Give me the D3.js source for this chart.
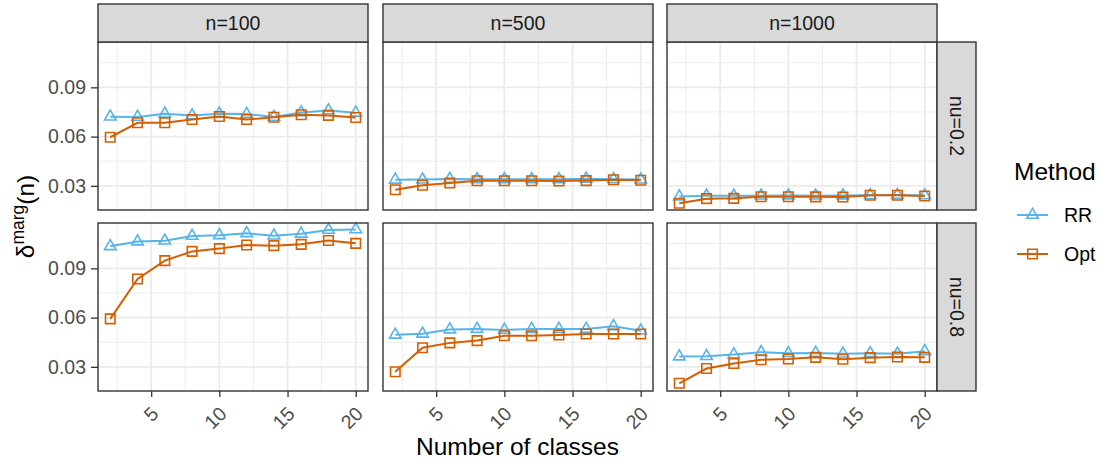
<!DOCTYPE html>
<html>
<head>
<meta charset="utf-8">
<script src="https://cdn.jsdelivr.net/npm/d3@7"></script>
<style>
  body { margin: 0; background: white; }
  svg { display: block; font-family: "Liberation Sans", Arial, sans-serif; }
</style>
</head>
<body>
<script>
// x values and facet labels
var classes = [2, 4, 6, 8, 10, 12, 14, 16, 18, 20];
var sizeLabels = ["n=100", "n=500", "n=1000"];
var nuLabels = ["nu=0.2", "nu=0.8"];
var methods = ["RR", "Opt"];
var yTicks = [0.03, 0.06, 0.09];
var xTicks = [5, 10, 15, 20];

// nu = 0.2
var rr_02_100  = [0.0721, 0.0720, 0.0739, 0.0729, 0.0739, 0.0737, 0.0720, 0.0747, 0.0759, 0.0745];
var opt_02_100 = [0.0596, 0.0684, 0.0684, 0.0704, 0.0722, 0.0704, 0.0718, 0.0733, 0.0729, 0.0716];
var rr_02_500  = [0.0337, 0.0338, 0.0342, 0.0340, 0.0340, 0.0340, 0.0340, 0.0343, 0.0341, 0.0338];
var opt_02_500 = [0.0276, 0.0304, 0.0317, 0.0331, 0.0331, 0.0331, 0.0330, 0.0332, 0.0337, 0.0334];
var rr_02_1000  = [0.0235, 0.0240, 0.0240, 0.0240, 0.0241, 0.0240, 0.0241, 0.0243, 0.0244, 0.0242];
var opt_02_1000 = [0.0194, 0.0222, 0.0224, 0.0234, 0.0234, 0.0233, 0.0232, 0.0243, 0.0243, 0.0238];
// nu = 0.8
var rr_08_100  = [0.1034, 0.1063, 0.1068, 0.1097, 0.1101, 0.1113, 0.1099, 0.1110, 0.1134, 0.1137];
var opt_08_100 = [0.0592, 0.0835, 0.0947, 0.1003, 0.1020, 0.1042, 0.1038, 0.1046, 0.1069, 0.1052];
var rr_08_500  = [0.0495, 0.0501, 0.0527, 0.0530, 0.0525, 0.0530, 0.0530, 0.0530, 0.0547, 0.0520];
var opt_08_500 = [0.0270, 0.0416, 0.0446, 0.0460, 0.0489, 0.0489, 0.0494, 0.0500, 0.0500, 0.0500];
var rr_08_1000  = [0.0363, 0.0365, 0.0375, 0.0389, 0.0383, 0.0385, 0.0380, 0.0383, 0.0380, 0.0395];
var opt_08_1000 = [0.0200, 0.0290, 0.0320, 0.0343, 0.0348, 0.0358, 0.0346, 0.0356, 0.0360, 0.0358];

var panels = [
  [ {RR: rr_02_100, Opt: opt_02_100}, {RR: rr_02_500, Opt: opt_02_500}, {RR: rr_02_1000, Opt: opt_02_1000} ],
  [ {RR: rr_08_100, Opt: opt_08_100}, {RR: rr_08_500, Opt: opt_08_500}, {RR: rr_08_1000, Opt: opt_08_1000} ]
];

var colors = { RR: "#56B4E9", Opt: "#D55E00" };

var width = 1102, height = 462;
var panelLeft = [98, 383, 667];
var panelW = 270;
var panelTop = [42, 223];
var panelH = 168;
var stripTop = 4, stripH = 38, stripW = 39;
var tickFont = "19.5px", titleFont = "24.5px";

var svg = d3.select("body").append("svg")
    .attr("width", width)
    .attr("height", height);

var x = d3.scaleLinear().domain([1.1, 20.9]).range([0, panelW]);
var y = d3.scaleLinear().domain([0.0153, 0.1176]).range([panelH, 0]);

var line = d3.line()
    .x(function(d, i) { return x(classes[i]); })
    .y(function(d) { return y(d); });

function triangle(s) {
  var h = s * 0.866;
  return "M0," + (-2 * h / 3) + "L" + (s / 2) + "," + (h / 3) + "L" + (-s / 2) + "," + (h / 3) + "Z";
}
function square(s) {
  return "M" + (-s / 2) + "," + (-s / 2) + "h" + s + "v" + s + "h" + (-s) + "Z";
}
function drawShape(g, m, cx, cy) {
  g.append("path")
    .attr("d", m == "RR" ? triangle(11.5) : square(9.5))
    .attr("transform", "translate(" + cx + "," + cy + ")")
    .attr("fill", "none")
    .attr("stroke", colors[m])
    .attr("stroke-width", 1.6);
}

var minorY = [0.045, 0.075, 0.105];
var minorX = [2.5, 7.5, 12.5, 17.5];

for (var r = 0; r < 2; r++) {
  for (var c = 0; c < 3; c++) {
    var g = svg.append("g").attr("transform", "translate(" + panelLeft[c] + "," + panelTop[r] + ")");

    g.append("rect").attr("width", panelW).attr("height", panelH).attr("fill", "white");

    // grid
    g.selectAll(".minx").data(minorX).enter().append("line")
      .attr("x1", function(d) { return x(d); }).attr("x2", function(d) { return x(d); })
      .attr("y1", 0).attr("y2", panelH)
      .attr("stroke", "#EBEBEB").attr("stroke-width", 0.9);
    g.selectAll(".miny").data(minorY).enter().append("line")
      .attr("y1", function(d) { return y(d); }).attr("y2", function(d) { return y(d); })
      .attr("x1", 0).attr("x2", panelW)
      .attr("stroke", "#EBEBEB").attr("stroke-width", 0.9);
    g.selectAll(".majx").data(xTicks).enter().append("line")
      .attr("x1", function(d) { return x(d); }).attr("x2", function(d) { return x(d); })
      .attr("y1", 0).attr("y2", panelH)
      .attr("stroke", "#EBEBEB").attr("stroke-width", 1.8);
    g.selectAll(".majy").data(yTicks).enter().append("line")
      .attr("y1", function(d) { return y(d); }).attr("y2", function(d) { return y(d); })
      .attr("x1", 0).attr("x2", panelW)
      .attr("stroke", "#EBEBEB").attr("stroke-width", 1.8);

    // lines and points
    methods.forEach(function(m) {
      var vals = panels[r][c][m];
      g.append("path").datum(vals)
        .attr("d", line)
        .attr("fill", "none")
        .attr("stroke", colors[m])
        .attr("stroke-width", 2);
      vals.forEach(function(v, i) { drawShape(g, m, x(classes[i]), y(v)); });
    });

    g.append("rect").attr("width", panelW).attr("height", panelH)
      .attr("fill", "none").attr("stroke", "#333333").attr("stroke-width", 1.4);

    // y axis on first column
    if (c == 0) {
      var ya = d3.axisLeft(y).tickValues(yTicks).tickSize(7).tickPadding(5).tickFormat(d3.format(".2f"));
      var yg = g.append("g").call(ya);
      yg.select(".domain").remove();
      yg.selectAll("line").attr("stroke", "#333333").attr("stroke-width", 1.3);
      yg.selectAll("text").attr("fill", "#4D4D4D").style("font-size", tickFont)
        .style("font-family", "Liberation Sans, Arial, sans-serif");
    }
    // x axis on bottom row
    if (r == 1) {
      var xa = d3.axisBottom(x).tickValues(xTicks).tickSize(6).tickFormat(d3.format("d"));
      var xg = g.append("g").attr("transform", "translate(0," + panelH + ")").call(xa);
      xg.select(".domain").remove();
      xg.selectAll("line").attr("stroke", "#333333").attr("stroke-width", 1.3);
      xg.selectAll("text")
        .attr("y", 0).attr("dy", 0)
        .attr("text-anchor", "end")
        .attr("transform", "translate(8,24) rotate(-45)")
        .attr("fill", "#4D4D4D").style("font-size", tickFont)
        .style("font-family", "Liberation Sans, Arial, sans-serif");
    }
  }
}

// top strips
sizeLabels.forEach(function(s, c) {
  svg.append("rect")
    .attr("x", panelLeft[c]).attr("y", stripTop)
    .attr("width", panelW).attr("height", stripH)
    .attr("fill", "#D9D9D9").attr("stroke", "#333333").attr("stroke-width", 1.4);
  svg.append("text")
    .attr("x", panelLeft[c] + panelW / 2).attr("y", stripTop + stripH / 2 + 7)
    .attr("text-anchor", "middle")
    .style("font-size", tickFont).attr("fill", "#1A1A1A")
    .text(s);
});

// right strips
nuLabels.forEach(function(s, r) {
  var sx = panelLeft[2] + panelW;
  svg.append("rect")
    .attr("x", sx).attr("y", panelTop[r])
    .attr("width", stripW).attr("height", panelH)
    .attr("fill", "#D9D9D9").attr("stroke", "#333333").attr("stroke-width", 1.4);
  var cx = sx + stripW / 2 - 7, cy = panelTop[r] + panelH / 2;
  svg.append("text")
    .attr("transform", "translate(" + cx + "," + cy + ") rotate(90)")
    .attr("text-anchor", "middle")
    .style("font-size", tickFont).attr("fill", "#1A1A1A")
    .text(s);
});

// axis titles
svg.append("text")
  .attr("x", (panelLeft[0] + panelLeft[2] + panelW) / 2).attr("y", 455)
  .attr("text-anchor", "middle")
  .style("font-size", titleFont)
  .text("Number of classes");

var yt = svg.append("text")
  .attr("transform", "translate(34," + (panelTop[0] + panelTop[1] + panelH) / 2 + ") rotate(-90)")
  .attr("text-anchor", "middle")
  .style("font-size", titleFont);
yt.append("tspan").text("δ");
yt.append("tspan").attr("dy", -10).style("font-size", "17.5px").text("marg");
yt.append("tspan").attr("dy", 10).text("(n)");

// legend
svg.append("text").attr("x", 1014).attr("y", 180).style("font-size", titleFont).text("Method");
methods.forEach(function(m, i) {
  var ly = 215 + i * 39;
  var lg = svg.append("g");
  lg.append("line").attr("x1", 1017).attr("x2", 1048).attr("y1", ly).attr("y2", ly)
    .attr("stroke", colors[m]).attr("stroke-width", 2);
  drawShape(lg, m, 1032.5, ly);
  lg.append("text").attr("x", 1064).attr("y", ly + 7).style("font-size", tickFont).text(m);
});
</script>
</body>
</html>
